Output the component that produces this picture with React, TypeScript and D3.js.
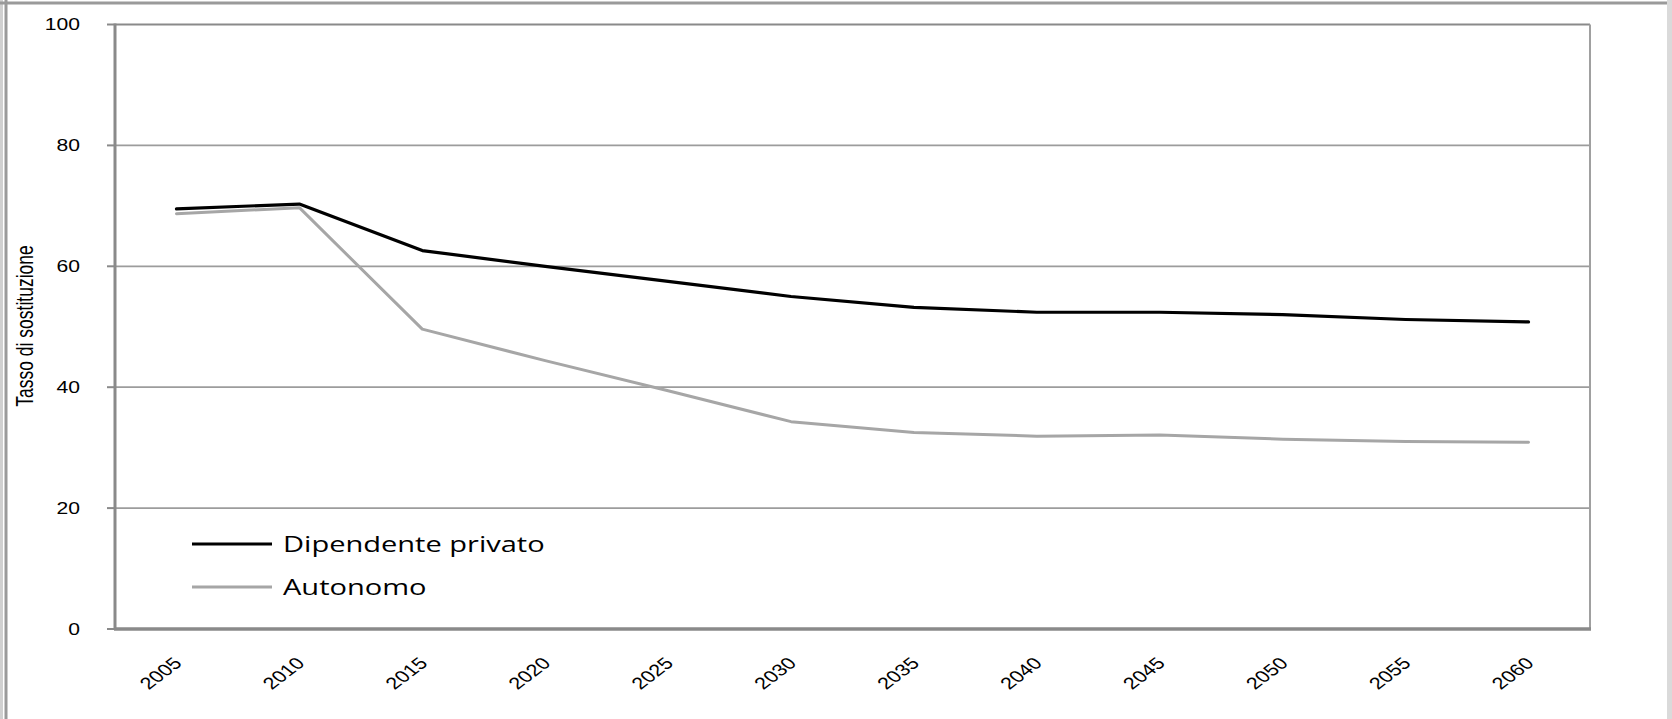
import React from 'react';
import * as d3 from 'd3';

const years = ['2005', '2010', '2015', '2020', '2025', '2030', '2035', '2040', '2045', '2050', '2055', '2060'];
const dipendente = [69.5, 70.3, 62.6, 60.0, 57.5, 55.0, 53.2, 52.4, 52.4, 52.0, 51.2, 50.8];
const autonomo = [68.7, 69.7, 49.6, 44.4, 39.4, 34.3, 32.5, 31.9, 32.1, 31.4, 31.0, 30.9];
const yTicks = [0, 20, 40, 60, 80, 100];
const yTitle = 'Tasso di sostituzione';
const seriesNames = ['Dipendente privato', 'Autonomo'];

const W = 1672;
const H = 719;
const SX = 1.32;
const left = 115;
const right = 1590;
const top = 24.5;
const bottom = 629;

export default function App() {
  const x = d3.scalePoint<string>().domain(years).range([left, right]).padding(0.5);
  const y = d3.scaleLinear().domain([0, 100]).range([bottom, top]);
  const line = d3
    .line<number>()
    .x((_, i) => x(years[i]) as number)
    .y((d) => y(d));

  const series = [
    { name: seriesNames[0], values: dipendente, color: '#000000', width: 3.2 },
    { name: seriesNames[1], values: autonomo, color: '#a6a6a6', width: 3 },
  ];

  return (
    <svg
      width={W}
      height={H}
      style={{ position: 'absolute', left: 0, top: 0, display: 'block', background: '#fff' }}
    >
      {/* outer frame */}
      <line x1={1.5} y1={0} x2={1.5} y2={H} stroke="#d0d0d0" strokeWidth={3} />
      <line x1={6} y1={0} x2={6} y2={H} stroke="#9a9a9a" strokeWidth={3} />
      <line x1={0} y1={3} x2={W} y2={3} stroke="#9a9a9a" strokeWidth={3} />
      <line x1={1669.5} y1={0} x2={1669.5} y2={H} stroke="#dadada" strokeWidth={5} />

      {/* gridlines */}
      {yTicks.filter((t) => t > 0).map((t) => (
        <line
          key={'g' + t}
          x1={left}
          x2={right}
          y1={y(t)}
          y2={y(t)}
          stroke={t === 100 ? '#8a8a8a' : '#9c9c9c'}
          strokeWidth={t === 100 ? 2.2 : 1.8}
        />
      ))}
      {/* y ticks */}
      {yTicks.map((t) => (
        <line key={'t' + t} x1={left - 8} x2={left} y1={y(t)} y2={y(t)} stroke="#8a8a8a" strokeWidth={2} />
      ))}
      {/* right border */}
      <line x1={right} x2={right} y1={top} y2={bottom} stroke="#a0a0a0" strokeWidth={2} />
      {/* y axis */}
      <line x1={left} x2={left} y1={top - 1} y2={bottom + 1} stroke="#8a8a8a" strokeWidth={3} />
      {/* x axis */}
      <line x1={left - 1} x2={right + 1} y1={bottom} y2={bottom} stroke="#8a8a8a" strokeWidth={3.5} />

      {/* y tick labels */}
      {yTicks.map((t) => (
        <text
          key={'l' + t}
          transform={`translate(80,${y(t)}) scale(${SX},1)`}
          textAnchor="end"
          dy="0.36em"
          fontFamily="'Liberation Sans', Arial, sans-serif"
          fontSize={16}
          fill="#000"
        >
          {t}
        </text>
      ))}

      {/* y title */}
      <text
        transform={`translate(33,326) scale(${SX},1) rotate(-90)`}
        textAnchor="middle"
        fontFamily="'Liberation Sans', Arial, sans-serif"
        fontSize={17.5}
        fill="#000"
      >
        {yTitle}
      </text>

      {/* x tick labels */}
      {years.map((yr) => (
        <text
          key={'x' + yr}
          transform={`translate(${(x(yr) as number) + 1},660) scale(${SX},1) rotate(-45)`}
          textAnchor="end"
          dy="0.36em"
          fontFamily="'Liberation Sans', Arial, sans-serif"
          fontSize={16.5}
          fill="#000"
        >
          {yr}
        </text>
      ))}

      {/* lines */}
      {series.map((s) => (
        <path
          key={s.name}
          d={line(s.values) as string}
          fill="none"
          stroke={s.color}
          strokeWidth={s.width}
          strokeLinejoin="round"
          strokeLinecap="round"
        />
      ))}

      {/* legend */}
      {series.map((s, i) => (
        <g key={'leg' + i}>
          <line x1={192} x2={272} y1={544 + i * 43} y2={544 + i * 43} stroke={s.color} strokeWidth={s.width} />
          <text
            transform={`translate(283,${552 + i * 43}) scale(${SX},1)`}
            fontFamily="'Open Sans', sans-serif"
            fontSize={22}
            fill="#000"
          >
            {s.name}
          </text>
        </g>
      ))}
    </svg>
  );
}
